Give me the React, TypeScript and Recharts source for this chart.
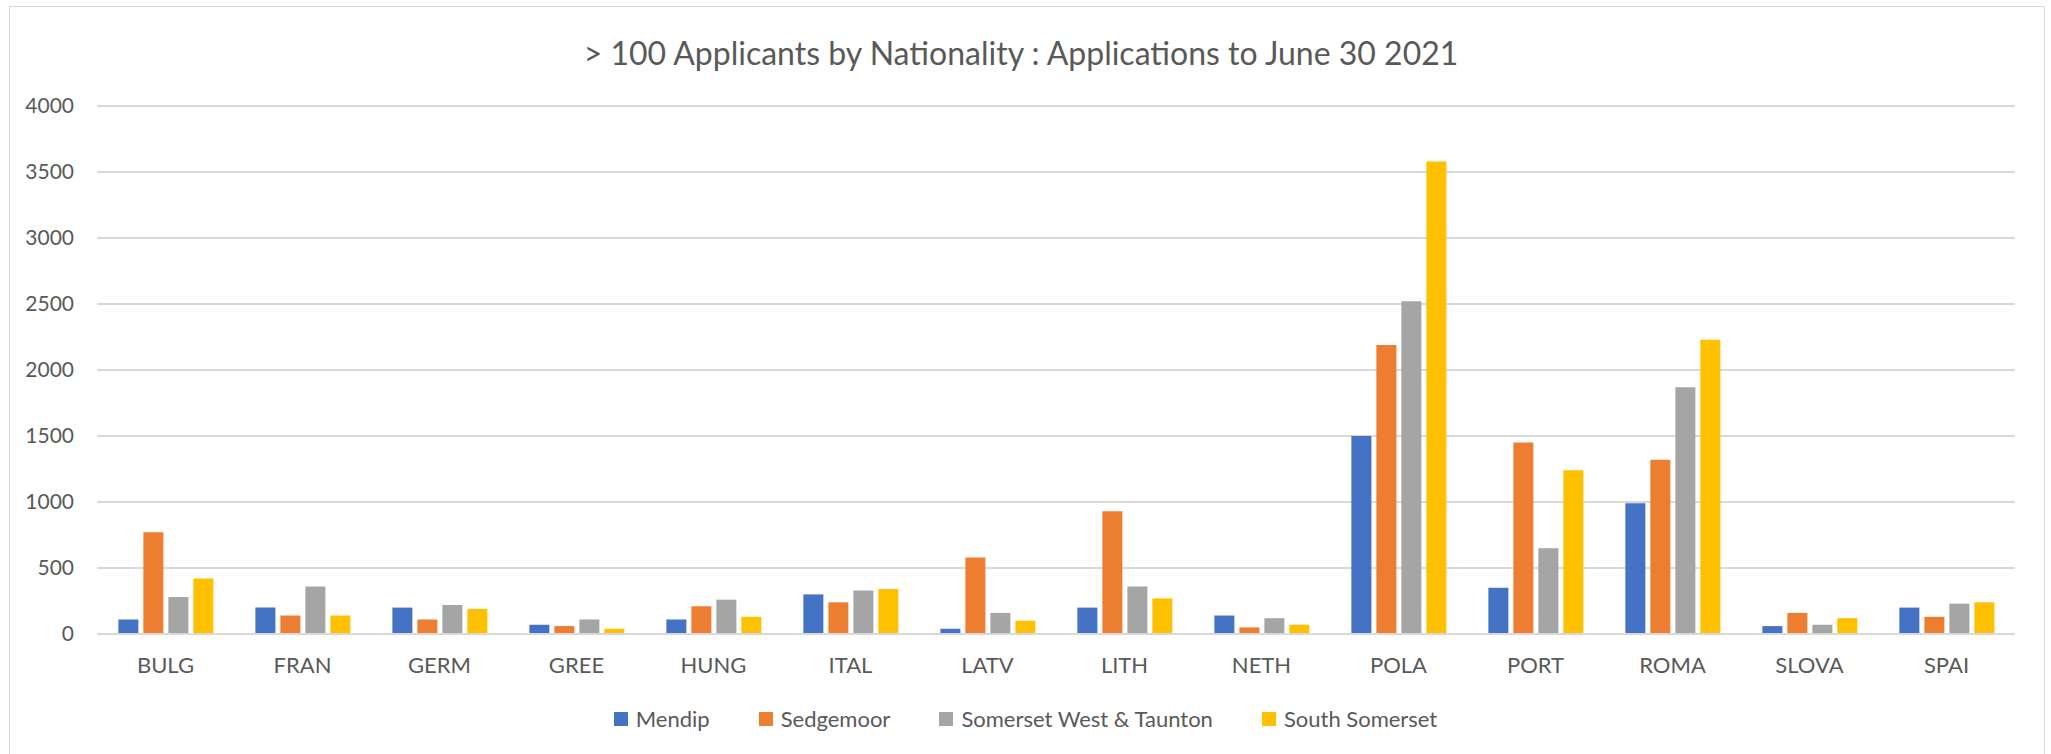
import { Bar, BarChart, CartesianGrid, XAxis, YAxis } from 'recharts';

const categories = ['BULG', 'FRAN', 'GERM', 'GREE', 'HUNG', 'ITAL', 'LATV', 'LITH', 'NETH', 'POLA', 'PORT', 'ROMA', 'SLOVA', 'SPAI'];
const mendip = [110, 200, 200, 70, 110, 300, 40, 200, 140, 1500, 350, 990, 60, 200];
const sedgemoor = [770, 140, 110, 60, 210, 240, 580, 930, 50, 2190, 1450, 1320, 160, 130];
const somersetWestTaunton = [280, 360, 220, 110, 260, 330, 160, 360, 120, 2520, 650, 1870, 70, 230];
const southSomerset = [420, 140, 190, 40, 130, 340, 100, 270, 70, 3580, 1240, 2230, 120, 240];
const yTicks = [0, 500, 1000, 1500, 2000, 2500, 3000, 3500, 4000];

const SERIES = [
  { key: 'mendip', name: 'Mendip', color: '#4472C4' },
  { key: 'sedgemoor', name: 'Sedgemoor', color: '#ED7D31' },
  { key: 'swt', name: 'Somerset West & Taunton', color: '#A5A5A5' },
  { key: 'south', name: 'South Somerset', color: '#FFC000' },
];

const data = categories.map((name, i) => ({
  name,
  mendip: mendip[i],
  sedgemoor: sedgemoor[i],
  swt: somersetWestTaunton[i],
  south: southSomerset[i],
}));

const FONT = 'Lato, "Open Sans", sans-serif';
const TEXT = '#595959';

export default function App() {
  return (
    <div style={{ position: 'absolute', left: 0, top: 0, width: 2051, height: 754, background: '#fff', overflow: 'hidden' }}>
      <div
        style={{
          position: 'absolute',
          left: 9,
          top: 6,
          width: 2034,
          height: 780,
          border: '1px solid #d9d9d9',
        }}
      />
      <div
        style={{
          position: 'absolute',
          left: 0,
          top: 36,
          width: 2042,
          textAlign: 'center',
          fontFamily: FONT,
          fontSize: 32,
          lineHeight: '34px',
          color: TEXT,
        }}
      >
        &gt; 100 Applicants by Nationality : Applications to June 30 2021
      </div>
      <div style={{ position: 'absolute', left: 0, top: 0 }}>
        <BarChart
          width={2051}
          height={754}
          data={data}
          margin={{ top: 106, right: 36, bottom: 90, left: 37 }}
          barCategoryGap="15.6%"
          barGap={5}
        >
          <CartesianGrid vertical={false} stroke="#d9d9d9" strokeWidth={2} />
          <XAxis
            dataKey="name"
            height={30}
            axisLine={{ stroke: '#d9d9d9', strokeWidth: 2 }}
            tickLine={false}
            tickMargin={17}
            tick={{ fill: TEXT, fontSize: 22, fontFamily: FONT }}
            interval={0}
          />
          <YAxis
            width={60}
            domain={[0, 4000]}
            ticks={yTicks}
            axisLine={false}
            tickLine={false}
            tickMargin={17}
            tick={{ fill: TEXT, fontSize: 21, fontFamily: FONT }}
          />
          {SERIES.map((s) => (
            <Bar key={s.key} dataKey={s.key} name={s.name} fill={s.color} isAnimationActive={false} />
          ))}
        </BarChart>
      </div>
      <div
        style={{
          position: 'absolute',
          left: 0,
          top: 705,
          width: 2051,
          display: 'flex',
          justifyContent: 'center',
          gap: 49,
          fontFamily: FONT,
          fontSize: 22,
          color: TEXT,
        }}
      >
        {SERIES.map((s) => (
          <span key={s.key} style={{ display: 'inline-flex', alignItems: 'center', gap: 8 }}>
            <span style={{ width: 14, height: 14, backgroundColor: s.color, display: 'inline-block' }} />
            {s.name}
          </span>
        ))}
      </div>
    </div>
  );
}
